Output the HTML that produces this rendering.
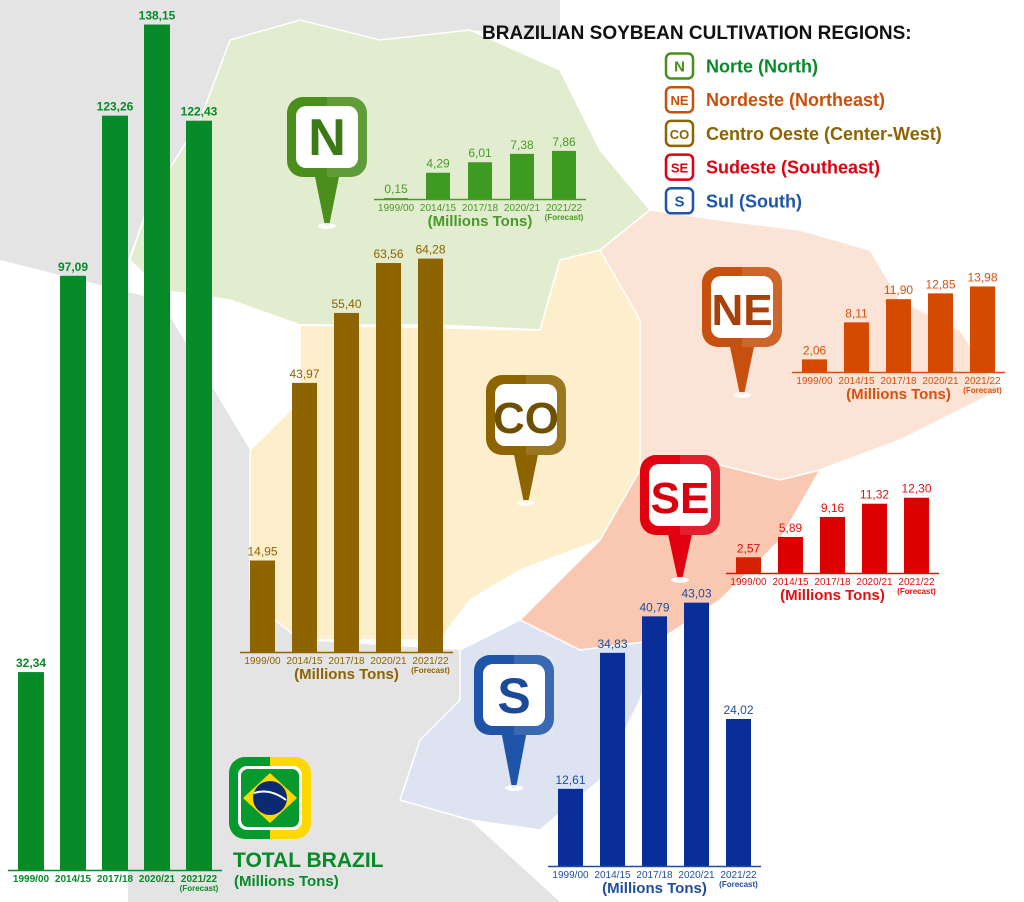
<!DOCTYPE html>
<html><head><meta charset="utf-8"><style>
html,body{margin:0;padding:0;background:#fff}
svg{display:block;font-family:"Liberation Sans",Arial,sans-serif}
</style></head><body>
<svg id="chart" width="1024" height="902" viewBox="0 0 1024 902" xmlns="http://www.w3.org/2000/svg">
<g id="map">
<polygon fill="#e4e4e4" points="0,0 560,0 560,40 470,30 380,40 300,20 230,40 200,120 150,200 128,260 128,902 560,902 470,820 400,800 420,740 460,700 460,650 300,640 250,600 250,450 160,300 0,260"/>
<polygon fill="#e2ecce" stroke="#fff" stroke-width="1.5" points="230,40 300,20 380,40 470,30 560,70 600,150 650,210 600,250 560,260 540,330 440,325 300,325 230,300 160,290 130,260 150,200 200,120"/>
<polygon fill="#fdeecc" stroke="#fff" stroke-width="1.5" points="300,325 540,330 560,260 600,250 640,320 640,470 600,540 520,570 470,600 440,640 300,640 250,600 250,450 300,400"/>
<polygon fill="#fbe4d6" stroke="#fff" stroke-width="1.5" points="600,250 650,210 720,220 800,230 870,250 900,300 960,330 1000,390 900,440 820,470 780,480 700,460 640,470 640,320"/>
<polygon fill="#fac8b0" stroke="#fff" stroke-width="1.5" points="640,470 700,460 780,480 820,470 780,540 720,600 660,640 580,650 520,620 600,540"/>
<polygon fill="#dde3f0" stroke="#fff" stroke-width="1.5" points="460,650 520,620 580,650 660,640 640,700 600,780 540,830 470,820 400,800 420,740 460,700"/>
</g>
<g id="layer"></g>
</svg>
<script>
// ---- data ----
const years = ["1999/00","2014/15","2017/18","2020/21","2021/22"];
const brazilValues = [32.34, 97.09, 123.26, 138.15, 122.43];
const northValues = [0.15, 4.29, 6.01, 7.38, 7.86];
const centerWestValues = [14.95, 43.97, 55.40, 63.56, 64.28];
const northeastValues = [2.06, 8.11, 11.90, 12.85, 13.98];
const southeastValues = [2.57, 5.89, 9.16, 11.32, 12.30];
const southValues = [12.61, 34.83, 40.79, 43.03, 24.02];

const NS="http://www.w3.org/2000/svg";
const layer=document.getElementById('layer');
function mk(tag,attrs,parent){const e=document.createElementNS(NS,tag);for(const k in attrs)e.setAttribute(k,attrs[k]);(parent||layer).appendChild(e);return e;}
function fmt(v){return v.toFixed(2).replace('.',',');}

const SCALE=6.12;
function drawChart(name,vals,cfg){
  const g=mk('g',{});
  
  
  const y=v=>cfg.base-v*SCALE;
  const x=i=>cfg.x0+i*42;
  vals.forEach((v,i)=>{
    const r=mk('rect',{x:x(i),y:y(v),width:cfg.bw,height:cfg.base-y(v),fill:(i===0&&cfg.first)?cfg.first:cfg.color},g);
    
    
    const t=mk('text',{x:x(i)+cfg.bw/2,y:y(v)-5,'text-anchor':'middle','font-size':cfg.vs,'font-weight':cfg.vw,fill:cfg.tc},g);
    t.textContent=fmt(v);
    
    
    const yl=mk('text',{x:x(i)+cfg.bw/2,y:cfg.base+12,'text-anchor':'middle','font-size':10,'font-weight':cfg.yw,fill:cfg.tc},g);
    yl.textContent=years[i];
    
    
  });
  const ax=mk('line',{x1:cfg.x0-10,x2:cfg.x0+4*42+cfg.bw+10,y1:cfg.base+0.5,y2:cfg.base+0.5,stroke:cfg.tc,'stroke-width':1.5},g);
  
  
  const fc=mk('text',{x:x(4)+cfg.bw/2,y:cfg.base+21,'text-anchor':'middle','font-size':8,'font-weight':'bold',fill:cfg.tc},g);
  fc.textContent='(Forecast)';
  
  
  if(cfg.unit){
    const u=mk('text',{x:x(2)+cfg.bw/2,y:cfg.base+27,'text-anchor':'middle','font-size':15,'font-weight':'bold',fill:cfg.tc},g);
    u.textContent='(Millions Tons)';
    
    
  }
}

function pin(name,label,x,y,color,tipY,fs,tcol){
  const g=mk('g',{});
  
  
  const cx=x+40;
  mk('polygon',{points:`${cx-14},${y+70} ${cx+14},${y+70} ${cx+2},${tipY} ${cx-2},${tipY}`,fill:color},g);
  mk('ellipse',{cx:cx,cy:tipY,rx:9,ry:3,fill:'#fff',opacity:0.9},g);
  mk('rect',{x:x,y:y,width:80,height:80,rx:16,fill:color},g);
  mk('rect',{x:x+40,y:y,width:40,height:80,rx:0,fill:'#fff',opacity:0.12},g);
  mk('rect',{x:x+9,y:y+9,width:62,height:62,rx:10,fill:'#fff'},g);
  const t=mk('text',{x:cx,y:y+58,'text-anchor':'middle','font-size':fs,'font-weight':'bold',fill:tcol},g);
  t.textContent=label;
}

drawChart('brazil',brazilValues,{x0:18,bw:26,base:870,color:'#078a28',tc:'#078a28',vs:12,vw:'bold',yw:'bold'});
drawChart('north',northValues,{x0:384,bw:24,base:199,color:'#3f9a22',tc:'#4a9a2a',vs:12,vw:'normal',yw:'normal',unit:1});
drawChart('center-west',centerWestValues,{x0:250,bw:25,base:652,color:'#8d6400',tc:'#8d6400',vs:12,vw:'normal',yw:'normal',unit:1});
drawChart('northeast',northeastValues,{x0:802,bw:25,base:372,color:'#d64a00',tc:'#d85010',vs:12,vw:'normal',yw:'normal',unit:1});
drawChart('southeast',southeastValues,{x0:736,bw:25,base:573,color:'#dc0000',first:'#d42200',tc:'#e01010',vs:12,vw:'normal',yw:'normal',unit:1});
drawChart('south',southValues,{x0:558,bw:25,base:866,color:'#0a2e99',tc:'#1f4ea0',vs:12,vw:'normal',yw:'normal',unit:1});

pin('north','N',287,97,'#4a8f1c',226,52,'#3c7a18');
pin('center-west','CO',486,375,'#8d6400',503,44,'#6e5000');
pin('northeast','NE',702,267,'#c8500e',395,44,'#a8400a');
pin('southeast','SE',640,455,'#e00010',580,44,'#d8000e');
pin('south','S',474,655,'#1f55a8',788,50,'#1a4a98');

// Brazil flag icon
(function(){
  const g=mk('g',{});
  
  
  mk('rect',{x:229,y:757,width:82,height:82,rx:16,fill:'#ffd800'},g);
  mk('path',{d:'M245,757 H270 V839 H245 A16,16 0 0 1 229,823 V773 A16,16 0 0 1 245,757 Z',fill:'#069a2e'},g);
  mk('rect',{x:238,y:766,width:64,height:64,rx:9,fill:'#fff'},g);
  mk('rect',{x:241,y:769,width:58,height:58,rx:7,fill:'#069a2e'},g);
  mk('polygon',{points:'270,773 297,798 270,823 243,798',fill:'#ffd800'},g);
  mk('circle',{cx:270,cy:798,r:17,fill:'#0b2a72'},g);
  mk('path',{d:'M254,793 Q270,788 286,800',stroke:'#fff','stroke-width':2,fill:'none'},g);
  const t=mk('text',{x:233,y:867,'font-size':21,'font-weight':'bold',fill:'#078a28'});
  t.textContent='TOTAL BRAZIL';
  
  
  const u=mk('text',{x:234,y:886,'font-size':15,'font-weight':'bold',fill:'#078a28'});
  u.textContent='(Millions Tons)';
  
  
})();

// Legend
(function(){
  const g=mk('g',{});
  
  
  const title=mk('text',{x:482,y:39,'font-size':19,'font-weight':'bold',fill:'#111'},g);
  title.textContent='BRAZILIAN SOYBEAN CULTIVATION REGIONS:';
  
  
  const items=[['N','Norte (North)','#4a8f1c','#078a28'],['NE','Nordeste (Northeast)','#c8500e','#c8500e'],['CO','Centro Oeste (Center-West)','#8d6400','#8d6400'],['SE','Sudeste (Southeast)','#e00010','#e00010'],['S','Sul (South)','#1f55a8','#1f55a8']];
  items.forEach((it,i)=>{
    const cy=66+i*33.7;
    const e=mk('g',{},g);
    
    
    mk('rect',{x:666,y:cy-12.5,width:27,height:25,rx:5,fill:'#fff',stroke:it[2],'stroke-width':2.5},e);
    const b=mk('text',{x:679.5,y:cy+5.5,'text-anchor':'middle','font-size':it[0].length>1?13:15,'font-weight':'bold',fill:it[2]},e);
    b.textContent=it[0];
    const t=mk('text',{x:706,y:cy+6.5,'font-size':18,'font-weight':'bold',fill:it[3]},e);
    t.textContent=it[1];
  });
})();
</script>
</body></html>
